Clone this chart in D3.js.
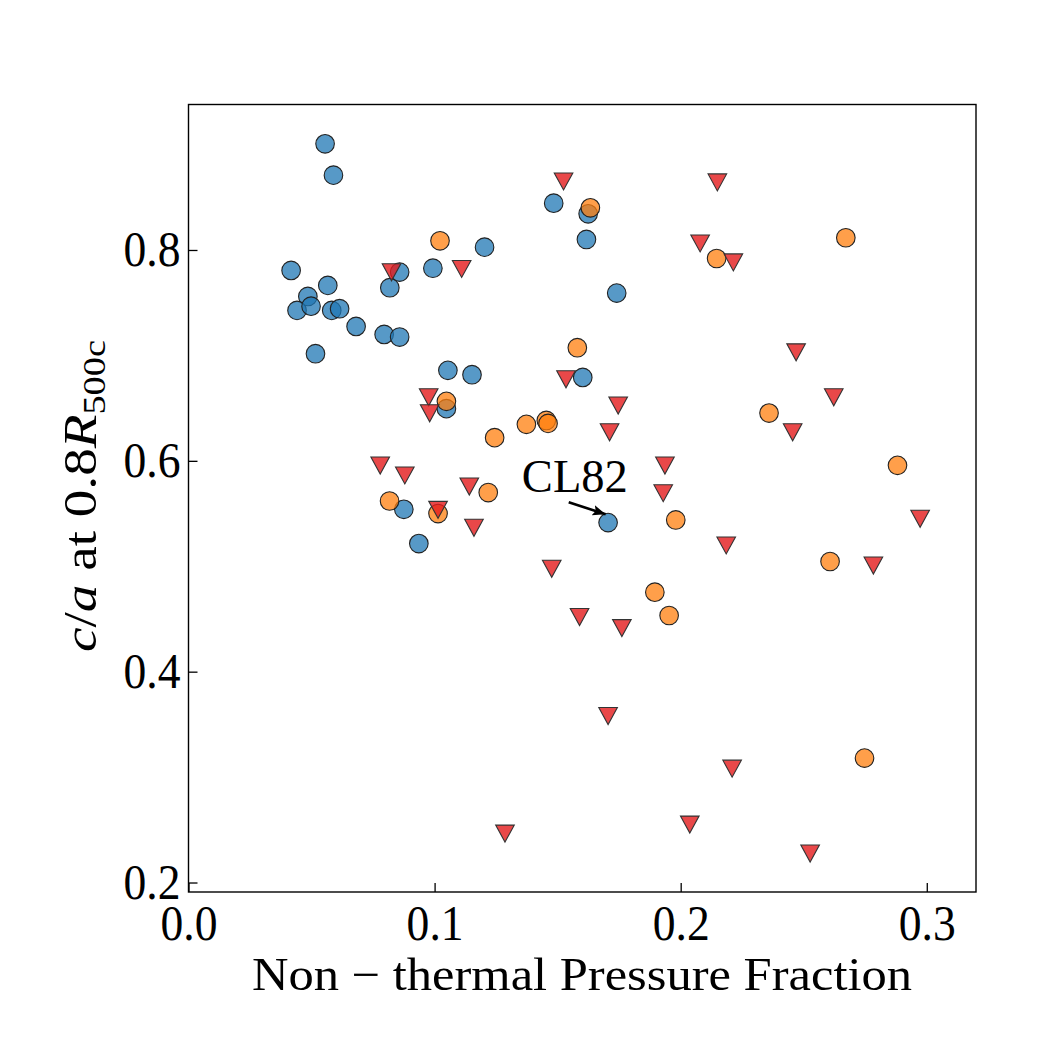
<!DOCTYPE html>
<html>
<head>
<meta charset="utf-8">
<script src="https://cdn.jsdelivr.net/npm/d3@7"></script>
<style>
  body { margin: 0; background: #fff; }
  svg text { font-family: "Liberation Serif", "DejaVu Serif", serif; fill: #000; }
</style>
</head>
<body>
<div id="chart"></div>
<script>
// relaxed clusters (blue circles)
var blueX = [0.0555, 0.0589, 0.0417, 0.0566, 0.0485, 0.0441, 0.0498, 0.0582, 0.0614, 0.0681,
  0.0795, 0.0858, 0.0516, 0.0858, 0.0818, 0.0993, 0.1203, 0.1054, 0.1152, 0.1048,
  0.1484, 0.1624, 0.1617, 0.1740, 0.1602, 0.0875, 0.0936, 0.1705];
var blueY = [0.9007, 0.8710, 0.7806, 0.7664, 0.7559, 0.7427, 0.7467, 0.7427, 0.7443, 0.7275,
  0.7199, 0.7174, 0.7016, 0.7790, 0.7642, 0.7827, 0.8027, 0.6858, 0.6817, 0.6495,
  0.8444, 0.8343, 0.8100, 0.7591, 0.6791, 0.5540, 0.5215, 0.5414];

// intermediate clusters (orange circles)
var orangeX = [0.1022, 0.1048, 0.1244, 0.1373, 0.1633, 0.2146, 0.2671, 0.1580, 0.1454, 0.1461,
  0.2359, 0.0817, 0.1014, 0.1218, 0.2881, 0.1980, 0.2607, 0.1895, 0.1953, 0.2747];
var orangeY = [0.8087, 0.6564, 0.6220, 0.6346, 0.8400, 0.7919, 0.8116, 0.7073, 0.6383, 0.6355,
  0.6453, 0.5619, 0.5500, 0.5699, 0.5957, 0.5439, 0.5045, 0.4754, 0.4533, 0.3180];

// disturbed clusters (red down triangles)
var redX = [0.0825, 0.1110, 0.0976, 0.0980, 0.1524, 0.2149, 0.2079, 0.2214, 0.1534, 0.2469,
  0.1746, 0.1711, 0.2622, 0.2455, 0.0779, 0.0879, 0.1014, 0.1141, 0.1160, 0.1286,
  0.1936, 0.1929, 0.2185, 0.2973, 0.2783, 0.1476, 0.1589, 0.1761, 0.1705, 0.2209,
  0.2037, 0.2526];
var redY = [0.7790, 0.7822, 0.6605, 0.6453, 0.8652, 0.8643, 0.8064, 0.7884, 0.6775, 0.7031,
  0.6526, 0.6273, 0.6605, 0.6273, 0.5957, 0.5863, 0.5537, 0.5758, 0.5367, 0.2466,
  0.5957, 0.5695, 0.5199, 0.5452, 0.5009, 0.4978, 0.4520, 0.4415, 0.3581, 0.3082,
  0.2551, 0.2277];

var xTicks = [0.0, 0.1, 0.2, 0.3];
var yTicks = [0.2, 0.4, 0.6, 0.8];

var label = { text: "CL82", x: 0.1570, y: 0.5701, fromX: 0.1545, fromY: 0.5607, toX: 0.1695, toY: 0.5493 };

var width = 1050, height = 1050;
var margin = { left: 188.5, top: 104.5, right: 1050 - 976, bottom: 1050 - 892 };

var svg = d3.select("#chart").append("svg")
  .attr("width", width)
  .attr("height", height);

var x = d3.scaleLinear().domain([0, 0.32]).range([margin.left, width - margin.right]);
var y = d3.scaleLinear().domain([0.191, 0.938]).range([height - margin.bottom, margin.top]);

function zip(xs, ys) {
  return xs.map(function (v, i) { return { x: v, y: ys[i] }; });
}

var plot = svg.append("g");

plot.selectAll(".blue").data(zip(blueX, blueY)).enter()
  .append("circle")
  .attr("class", "blue")
  .attr("cx", d => x(d.x))
  .attr("cy", d => y(d.y))
  .attr("r", 9.3)
  .style("fill", "#1f77b4")
  .style("fill-opacity", 0.75)
  .style("stroke", "#222")
  .style("stroke-width", 1.1);

plot.selectAll(".orange").data(zip(orangeX, orangeY)).enter()
  .append("circle")
  .attr("class", "orange")
  .attr("cx", d => x(d.x))
  .attr("cy", d => y(d.y))
  .attr("r", 9.3)
  .style("fill", "#ff7f0e")
  .style("fill-opacity", 0.75)
  .style("stroke", "#222")
  .style("stroke-width", 1.1);

var tri = "M-9.3,-8.3L9.3,-8.3L0,8.7Z";
plot.selectAll(".red").data(zip(redX, redY)).enter()
  .append("path")
  .attr("class", "red")
  .attr("d", tri)
  .attr("transform", d => "translate(" + x(d.x) + "," + y(d.y) + ")")
  .style("fill", "#e41a1c")
  .style("fill-opacity", 0.8)
  .style("stroke", "#333")
  .style("stroke-width", 1.1);

// annotation
svg.append("defs").append("marker")
  .attr("id", "head")
  .attr("viewBox", "0 0 10 10")
  .attr("refX", 10).attr("refY", 5)
  .attr("markerWidth", 5).attr("markerHeight", 5)
  .attr("markerUnits", "strokeWidth")
  .attr("orient", "auto")
  .append("path").attr("d", "M0,1L10,5L0,9L2,5Z").style("fill", "#000");

svg.append("line")
  .attr("x1", x(label.fromX)).attr("y1", y(label.fromY))
  .attr("x2", x(label.toX)).attr("y2", y(label.toY))
  .style("stroke", "#000")
  .style("stroke-width", 2.6)
  .attr("marker-end", "url(#head)");

svg.append("text")
  .attr("x", x(label.x)).attr("y", y(label.y))
  .attr("text-anchor", "middle")
  .style("font-size", "46px")
  .attr("textLength", 106)
  .attr("lengthAdjust", "spacingAndGlyphs")
  .text(label.text);

// axes
var xAxis = d3.axisBottom(x).tickValues(xTicks).tickFormat(d3.format(".1f"))
  .tickSizeInner(-9).tickSizeOuter(0).tickPadding(12);
var yAxis = d3.axisLeft(y).tickValues(yTicks).tickFormat(d3.format(".1f"))
  .tickSizeInner(-9).tickSizeOuter(0).tickPadding(8);

var gx = svg.append("g").attr("transform", "translate(0," + (height - margin.bottom) + ")").call(xAxis);
var gy = svg.append("g").attr("transform", "translate(" + margin.left + ",0)").call(yAxis);
[gx, gy].forEach(function (g) {
  g.select(".domain").remove();
  g.selectAll(".tick line").style("stroke", "#000").style("stroke-width", 1.3);
  g.selectAll(".tick text")
    .style("font-size", "50px")
    .style("font-family", "Liberation Serif, serif")
    .attr("textLength", 57)
    .attr("lengthAdjust", "spacingAndGlyphs");
});
gx.selectAll(".tick text").attr("dy", "0.72em");
gy.selectAll(".tick text").attr("dy", "0.32em");

svg.append("rect")
  .attr("x", margin.left).attr("y", margin.top)
  .attr("width", width - margin.right - margin.left)
  .attr("height", height - margin.bottom - margin.top)
  .style("fill", "none")
  .style("stroke", "#000")
  .style("stroke-width", 1.4);

// axis labels
svg.append("text")
  .attr("x", 582).attr("y", 990)
  .attr("text-anchor", "middle")
  .style("font-size", "46px")
  .attr("textLength", 660)
  .attr("lengthAdjust", "spacingAndGlyphs")
  .text("Non \u2212 thermal Pressure Fraction");

var yl = svg.append("text")
  .attr("transform", "translate(96,496) rotate(-90)")
  .attr("text-anchor", "middle")
  .style("font-size", "46px")
  .attr("textLength", 312)
  .attr("lengthAdjust", "spacingAndGlyphs");
yl.append("tspan").style("font-style", "italic").text("c");
yl.append("tspan").text("/");
yl.append("tspan").style("font-style", "italic").text("a");
yl.append("tspan").text(" at 0.8");
yl.append("tspan").style("font-style", "italic").text("R");
yl.append("tspan").attr("dy", 9).style("font-size", "32px").text("500c");
</script>
</body>
</html>
